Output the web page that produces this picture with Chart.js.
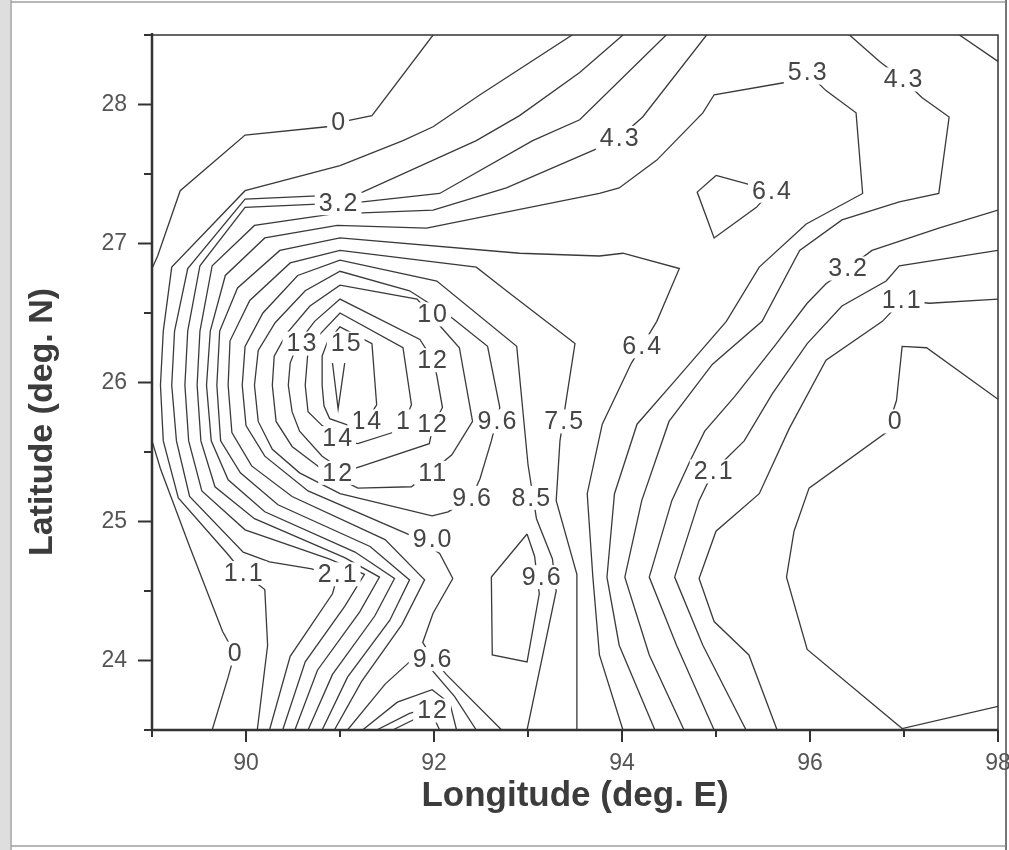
<!DOCTYPE html>
<html>
<head>
<meta charset="utf-8">
<title>Contour map</title>
<script src="https://cdn.jsdelivr.net/npm/chart.js@4.4.1/dist/chart.umd.min.js"></script>
<style>
  html, body { margin: 0; padding: 0; background: #fff; }
  canvas { display: block; }
</style>
</head>
<body>
<canvas id="contour" width="1009" height="850"></canvas>
<script>
// axis ticks
const lonTicks = [90, 92, 94, 96, 98];
const lonMinor = [89, 91, 93, 95, 97];
const latTicks = [24, 25, 26, 27, 28];
const latMinor = [23.5, 24.5, 25.5, 26.5, 27.5, 28.5];

// contour lines as [lon, lat] pairs
const c0North = [[91.99,28.5],[91.34,27.92],[90.98,27.87],[90.86,27.84],[89.99,27.78],[89.30,27.38],[89.06,26.91],[89.0,26.82]];
const c0West = [[89.0,25.58],[89.09,25.38],[89.40,24.82],[89.75,24.21],[89.88,24.05],[89.81,23.88],[89.64,23.5]];
const c0East = [[98,25.88],[97.24,26.25],[96.98,26.26],[96.92,25.87],[96.81,25.64],[95.99,25.24],[95.83,24.93],[95.75,24.60],[95.97,24.08],[96.98,23.51],[98,23.67]];

const c11West = [[93.47,28.5],[92.49,28.07],[91.99,27.84],[91.67,27.74],[91.00,27.56],[89.99,27.38],[89.21,26.83],[89.12,26.37],[89.09,25.98],[89.12,25.58],[89.28,25.17],[89.80,24.77],[89.97,24.63],[90.20,24.51],[90.23,24.11],[90.12,23.5]];
const c11East = [[98,26.60],[97.27,26.57],[96.98,26.59],[96.77,26.44],[96.17,26.16],[95.78,25.67],[95.46,25.20],[95.00,24.93],[94.82,24.59],[94.98,24.28],[95.35,24.04],[95.65,23.5]];

const c21West = [[94.01,28.5],[93.55,28.23],[92.91,27.92],[92.45,27.74],[91.24,27.37],[91.00,27.35],[89.99,27.32],[89.38,26.82],[89.24,26.37],[89.21,25.98],[89.26,25.58],[89.40,25.18],[89.97,24.78],[90.25,24.71],[90.70,24.66],[90.97,24.60],[90.92,24.48],[90.47,24.03],[90.25,23.5]];
const c21East = [[98,26.95],[96.95,26.84],[96.81,26.73],[96.34,26.55],[95.97,26.28],[95.60,25.92],[95.30,25.58],[94.97,25.36],[94.82,25.15],[94.56,24.60],[94.86,24.11],[95.32,23.5]];

const c32West = [[94.47,28.5],[93.55,27.89],[93.05,27.74],[92.06,27.36],[91.24,27.30],[91.00,27.29],[89.99,27.26],[89.51,26.84],[89.38,26.37],[89.35,25.98],[89.39,25.58],[89.53,25.22],[89.99,24.94],[90.89,24.73],[91.26,24.62],[91.05,24.39],[90.63,23.99],[90.39,23.5]];
const c32East = [[98,27.24],[97.37,27.11],[96.66,26.95],[96.40,26.82],[96.17,26.71],[95.97,26.57],[95.62,26.26],[95.20,25.90],[94.88,25.65],[94.72,25.43],[94.53,25.15],[94.29,24.60],[94.58,24.11],[94.98,23.5]];
const c32Corner = [[97.59,28.5],[98,28.31]];

const c43West = [[94.90,28.5],[94.22,27.91],[93.97,27.76],[93.76,27.69],[92.77,27.40],[91.99,27.24],[91.24,27.22],[91.00,27.22],[90.09,27.13],[89.64,26.84],[89.51,26.37],[89.48,25.98],[89.52,25.58],[89.67,25.25],[90.09,25.02],[91.05,24.74],[91.42,24.60],[91.21,24.35],[90.76,23.93],[90.52,23.5]];
const c43East = [[96.42,28.5],[96.74,28.31],[96.99,28.18],[97.19,28.05],[97.48,27.91],[97.37,27.36],[96.95,27.30],[96.34,27.17],[95.89,26.95],[95.49,26.44],[94.96,26.13],[94.50,25.72],[94.21,25.15],[94.03,24.60],[94.29,24.04],[94.66,23.5]];

const c53 = [[94.35,23.5],[93.97,24.11],[93.84,24.60],[93.92,25.20],[94.16,25.70],[94.56,26.01],[95.11,26.44],[95.46,26.83],[95.96,27.14],[96.56,27.36],[96.49,27.94],[96.17,28.10],[95.97,28.23],[95.75,28.16],[94.98,28.07],[94.86,27.94],[94.37,27.60],[93.97,27.40],[93.76,27.36],[91.92,27.11],[90.97,27.13],[90.20,27.04],[89.78,26.77],[89.62,26.37],[89.58,25.98],[89.63,25.58],[89.81,25.30],[90.20,25.07],[91.16,24.78],[91.58,24.59],[91.37,24.32],[90.92,23.90],[90.66,23.5]];

const c64 = [[94.01,23.5],[93.76,24.04],[93.69,24.60],[93.63,25.20],[93.79,25.70],[94.10,26.14],[94.21,26.26],[94.37,26.44],[94.61,26.82],[94.01,26.93],[93.76,26.91],[92.91,26.93],[91.00,27.04],[90.36,26.95],[89.91,26.68],[89.72,26.37],[89.69,25.98],[89.73,25.58],[89.94,25.35],[90.34,25.12],[91.32,24.82],[91.74,24.58],[91.53,24.29],[91.08,23.88],[90.81,23.5]];
const c64Knot = [[95.00,27.49],[94.80,27.37],[94.98,27.04],[95.43,27.26],[95.59,27.38],[95.32,27.43],[95.00,27.49]];

const c75 = [[93.52,23.5],[93.52,24.62],[93.30,25.15],[93.34,25.58],[93.41,25.89],[93.50,26.28],[92.77,26.66],[92.45,26.83],[91.00,26.95],[90.47,26.86],[90.04,26.59],[89.83,26.30],[89.81,25.98],[89.85,25.64],[90.06,25.40],[90.49,25.18],[91.48,24.87],[91.90,24.58],[91.66,24.26],[91.23,23.85],[90.94,23.5]];

const c85 = [[92.99,23.5],[93.30,24.50],[93.26,24.73],[93.09,25.02],[93.00,25.41],[92.88,26.26],[92.03,26.73],[91.00,26.88],[90.55,26.77],[90.18,26.50],[89.99,26.26],[89.96,25.98],[90.00,25.69],[90.20,25.47],[90.66,25.22],[91.79,24.89],[92.06,24.77],[92.20,24.59],[91.99,24.34],[91.88,24.13],[91.98,24.02],[92.13,23.90],[92.72,23.5]];

const c96Ring = [[90.09,25.98],[90.13,26.23],[90.31,26.43],[90.63,26.66],[91.00,26.80],[91.74,26.66],[92.20,26.46],[92.57,26.26],[92.70,25.82],[92.61,25.58],[92.49,25.31],[92.40,25.17],[92.15,25.07],[91.98,25.04],[91.00,25.20],[90.57,25.35],[90.28,25.52],[90.13,25.72],[90.09,25.98]];
const c96Cell = [[92.99,24.91],[92.61,24.60],[92.62,24.04],[92.99,23.99],[93.12,24.48],[93.07,24.75],[92.99,24.91]];

const c107 = [[90.28,25.98],[90.30,26.19],[90.43,26.35],[90.68,26.55],[91.00,26.70],[91.82,26.60],[92.06,26.41],[92.27,26.25],[92.41,25.72],[92.19,25.48],[92.01,25.38],[91.76,25.25],[91.19,25.24],[90.84,25.36],[90.49,25.54],[90.32,25.72],[90.28,25.98]];
const c118 = [[90.45,25.98],[90.47,26.14],[90.55,26.28],[90.73,26.44],[91.00,26.60],[91.85,26.31],[91.99,26.16],[92.03,26.05],[92.09,25.82],[91.99,25.69],[91.95,25.56],[91.24,25.40],[91.05,25.36],[90.81,25.47],[90.57,25.65],[90.49,25.79],[90.45,25.98]];
const c128 = [[90.63,25.98],[90.66,26.23],[90.79,26.35],[91.00,26.50],[91.67,26.25],[91.76,25.84],[91.69,25.72],[91.56,25.64],[91.19,25.56],[91.05,25.58],[90.81,25.69],[90.66,25.79],[90.63,25.98]];
const c139 = [[90.81,25.98],[90.81,26.19],[90.87,26.30],[91.00,26.40],[91.34,26.28],[91.39,25.84],[91.28,25.72],[91.10,25.69],[90.89,25.74],[90.83,25.83],[90.81,25.98]];
const c150 = [[90.92,26.14],[90.98,25.81],[91.05,26.14]];

// nested lines of the ridge at the bottom edge
const ridgeA = [[91.08,23.5],[91.48,23.83],[91.74,23.99],[91.98,23.93],[92.22,23.74],[92.45,23.5]];
const ridgeB = [[91.24,23.5],[91.61,23.70],[91.98,23.79],[92.17,23.69],[92.24,23.5]];
const ridgeC = [[91.39,23.5],[91.74,23.62],[91.95,23.66],[92.06,23.5]];
const ridgeD = [[91.56,23.5],[91.83,23.59]];

const contourLines = [
  c0North, c0West, c0East, c11West, c11East, c21West, c21East,
  c32West, c32East, c32Corner, c43West, c43East, c53, c64, c64Knot,
  c75, c85, c96Ring, c96Cell, c107, c118, c128, c139, c150,
  ridgeA, ridgeB, ridgeC, ridgeD
];

// contour labels
const labelText = ['0','3.2','4.3','5.3','4.3','6.4','3.2','1.1','6.4','10','13','15','12','9.6','7.5','14','1','12','14','12','11','9.6','8.5','9.0','2.1','0','1.1','2.1','9.6','0','9.6','12'];
const labelLon = [90.98,90.98,93.97,95.97,96.99,95.59,96.40,96.97,94.21,91.98,90.59,91.06,91.98,92.67,93.38,91.28,91.67,91.98,90.97,90.97,91.98,92.40,93.03,91.98,94.97,96.90,89.97,90.97,93.14,89.88,91.98,91.98];
const labelLat = [27.87,27.29,27.76,28.23,28.18,27.38,26.82,26.59,26.26,26.49,26.28,26.28,26.16,25.72,25.72,25.72,25.72,25.70,25.60,25.35,25.35,25.17,25.17,24.87,25.36,25.72,24.63,24.62,24.60,24.05,24.01,23.64];

const lineColor = '#3a3a3a';
const fontFamily = '"Liberation Sans", Arial, sans-serif';

const contourLabels = {
  id: 'contourLabels',
  afterDatasetsDraw(chart) {
    const ctx = chart.ctx;
    const xs = chart.scales.x, ys = chart.scales.y;
    ctx.save();
    ctx.font = '25px ' + fontFamily;
    ctx.textAlign = 'center';
    ctx.textBaseline = 'middle';
    if ('letterSpacing' in ctx) ctx.letterSpacing = '2px';
    labelText.forEach((t, i) => {
      const px = xs.getPixelForValue(labelLon[i]);
      const py = ys.getPixelForValue(labelLat[i]);
      const w = ctx.measureText(t).width + 6;
      ctx.fillStyle = '#fff';
      ctx.fillRect(px - w / 2, py - 12, w, 24);
      ctx.fillStyle = '#454545';
      ctx.fillText(t, px + 1, py + 1);
    });
    ctx.restore();
  }
};

const frame = {
  id: 'frame',
  beforeDraw(chart) {
    const ctx = chart.ctx;
    ctx.save();
    ctx.fillStyle = '#fff';
    ctx.fillRect(0, 0, chart.width, chart.height);
    ctx.fillStyle = '#dedede';
    ctx.fillRect(0, 0, 10, chart.height);
    ctx.strokeStyle = '#a0a0a0';
    ctx.lineWidth = 1.5;
    ctx.beginPath();
    ctx.moveTo(11, 2); ctx.lineTo(1005, 2);
    ctx.moveTo(11, 846); ctx.lineTo(1005, 846);
    ctx.moveTo(11, 0); ctx.lineTo(11, 850);
    ctx.stroke();
    ctx.strokeStyle = '#777';
    ctx.lineWidth = 2;
    ctx.beginPath();
    ctx.moveTo(1006, 0); ctx.lineTo(1006, 850);
    ctx.stroke();
    ctx.restore();
  },
  afterDraw(chart) {
    const ctx = chart.ctx;
    const a = chart.chartArea;
    const xs = chart.scales.x, ys = chart.scales.y;
    ctx.save();
    ctx.strokeStyle = '#333';
    ctx.lineWidth = 1.5;
    ctx.strokeRect(a.left, a.top, a.right - a.left, a.bottom - a.top);
    ctx.lineWidth = 2.5;
    ctx.beginPath();
    ctx.moveTo(a.left, a.top - 2);
    ctx.lineTo(a.left, a.bottom);
    ctx.lineTo(a.right, a.bottom);
    ctx.stroke();

    ctx.lineWidth = 2;
    ctx.beginPath();
    lonTicks.forEach(v => { const p = xs.getPixelForValue(v); ctx.moveTo(p, a.bottom); ctx.lineTo(p, a.bottom + 12); });
    lonMinor.forEach(v => { const p = xs.getPixelForValue(v); ctx.moveTo(p, a.bottom); ctx.lineTo(p, a.bottom + 7); });
    latTicks.forEach(v => { const p = ys.getPixelForValue(v); ctx.moveTo(a.left, p); ctx.lineTo(a.left - 14, p); });
    latMinor.forEach(v => { const p = ys.getPixelForValue(v); ctx.moveTo(a.left, p); ctx.lineTo(a.left - 8, p); });
    ctx.stroke();

    ctx.fillStyle = '#3c3c3c';
    ctx.textAlign = 'center';
    ctx.textBaseline = 'middle';
    ctx.font = 'bold 35px ' + fontFamily;
    ctx.fillText('Longitude (deg. E)', (a.left + a.right) / 2, 796);
    ctx.font = 'bold 34px ' + fontFamily;
    ctx.translate(43, 422);
    ctx.rotate(-Math.PI / 2);
    ctx.fillText('Latitude (deg. N)', 0, 0);
    ctx.restore();
  }
};

new Chart(document.getElementById('contour'), {
  type: 'scatter',
  data: {
    datasets: contourLines.map(pts => ({
      data: pts.map(([x, y]) => ({ x, y })),
      showLine: true,
      borderColor: lineColor,
      borderWidth: 1.3,
      pointRadius: 0,
      fill: false,
      tension: 0
    }))
  },
  options: {
    responsive: false,
    animation: false,
    devicePixelRatio: 1,
    layout: { padding: { left: 12, right: 11, top: 35, bottom: 20 } },
    plugins: { legend: { display: false }, tooltip: { enabled: false } },
    events: [],
    scales: {
      x: {
        type: 'linear',
        min: 89,
        max: 98,
        afterBuildTicks: s => { s.ticks = lonTicks.map(v => ({ value: v })); },
        afterFit: s => { s.height = 100; s.paddingLeft = 0; s.paddingRight = 0; },
        grid: { display: false, drawTicks: false },
        border: { display: false },
        ticks: { color: '#555', padding: 20, font: { size: 23, family: fontFamily }, maxRotation: 0 }
      },
      y: {
        type: 'linear',
        min: 23.5,
        max: 28.5,
        afterBuildTicks: s => { s.ticks = latTicks.map(v => ({ value: v })); },
        afterFit: s => { s.width = 140; s.paddingTop = 0; s.paddingBottom = 0; },
        grid: { display: false, drawTicks: false },
        border: { display: false },
        ticks: { color: '#555', padding: 25, font: { size: 23, family: fontFamily } }
      }
    }
  },
  plugins: [frame, contourLabels]
});
</script>
</body>
</html>
